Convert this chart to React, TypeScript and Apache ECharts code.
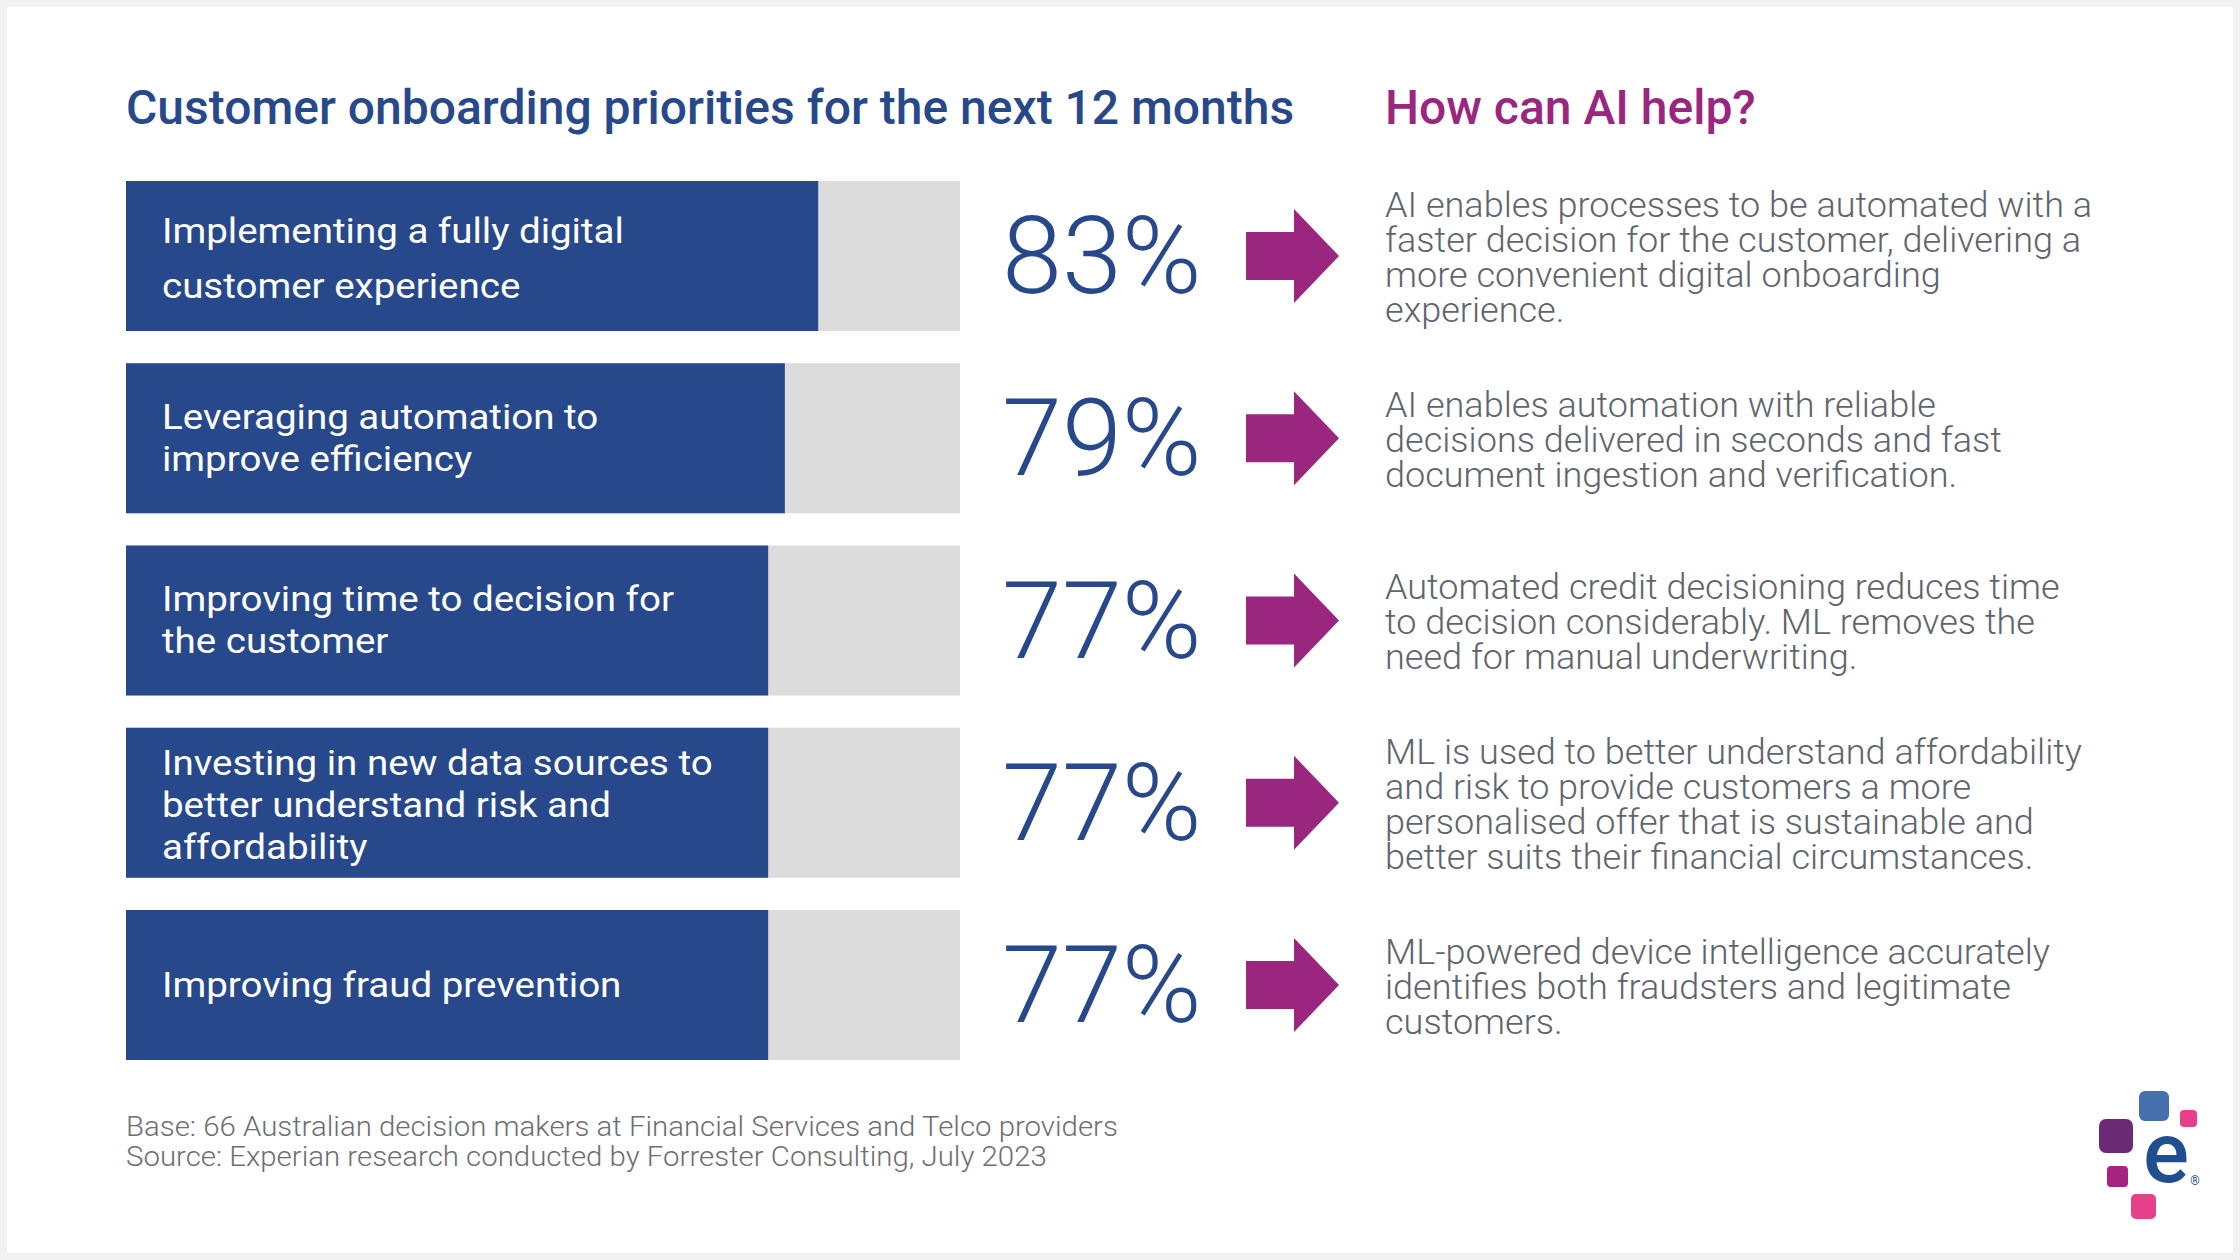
import React, { useEffect, useRef } from "react";
import * as echarts from "echarts";

const chartTitle = "Customer onboarding priorities for the next 12 months";
const sideTitle = "How can AI help?";
const categories = [
  "Implementing a fully digital\ncustomer experience",
  "Leveraging automation to\nimprove efficiency",
  "Improving time to decision for\nthe customer",
  "Investing in new data sources to\nbetter understand risk and\naffordability",
  "Improving fraud prevention",
];
const values = [83, 79, 77, 77, 77];
const aiHelp = [
  "AI enables processes to be automated with a\nfaster decision for the customer, delivering a\nmore convenient digital onboarding\nexperience.",
  "AI enables automation with reliable\ndecisions delivered in seconds and fast\ndocument ingestion and verification.",
  "Automated credit decisioning reduces time\nto decision considerably. ML removes the\nneed for manual underwriting.",
  "ML is used to better understand affordability\nand risk to provide customers a more\npersonalised offer that is sustainable and\nbetter suits their financial circumstances.",
  "ML-powered device intelligence accurately\nidentifies both fraudsters and legitimate\ncustomers.",
];
const footnotes = [
  "Base: 66 Australian decision makers at Financial Services and Telco providers",
  "Source: Experian research conducted by Forrester Consulting, July 2023",
];

const BLUE = "#27498c";
const PURPLE = "#9b2680";
const GREY_TEXT = "#60646b";
const FONT = "Roboto, 'Noto Sans', sans-serif";

export default function App() {
  const ref = useRef<HTMLDivElement>(null);

  useEffect(() => {
    if (!ref.current) return;
    const chart = echarts.init(ref.current, undefined, { renderer: "svg" });

    const option: any = {
      animation: false,
      backgroundColor: "#f2f2f2",
      grid: { left: 126, top: 164.9, width: 834, height: 911.25, containLabel: false },
      xAxis: { type: "value", min: 0, max: 100, show: false },
      yAxis: { type: "category", data: categories, inverse: true, show: false },
      graphic: [
        {
          type: "rect",
          z: -10,
          shape: { x: 7, y: 7, width: 2226, height: 1246 },
          style: { fill: "#ffffff" },
        },
        {
          type: "text",
          x: 126,
          y: 107.5,
          style: {
            text: chartTitle,
            fill: BLUE,
            fontSize: 48,
            fontWeight: 500,
            fontFamily: FONT,
            align: "left",
            verticalAlign: "middle",
          },
        },
        {
          type: "text",
          x: 1385,
          y: 107.5,
          style: {
            text: sideTitle,
            fill: PURPLE,
            fontSize: 48,
            fontWeight: 500,
            fontFamily: FONT,
            align: "left",
            verticalAlign: "middle",
          },
        },
        {
          type: "text",
          x: 126,
          y: 1141,
          scaleX: 1.05,
          style: {
            text: footnotes.join("\n"),
            fill: "#6d6e71",
            fontSize: 28,
            fontWeight: 300,
            fontFamily: FONT,
            lineHeight: 30,
            align: "left",
            verticalAlign: "middle",
          },
        },
        // logo
        { type: "rect", shape: { x: 2139, y: 1091, width: 30, height: 30, r: 6 }, style: { fill: "#4470ad" } },
        { type: "rect", shape: { x: 2180, y: 1110, width: 17, height: 17, r: 4 }, style: { fill: "#e6408b" } },
        { type: "rect", shape: { x: 2099, y: 1119, width: 34, height: 34, r: 7 }, style: { fill: "#6c2a76" } },
        { type: "rect", shape: { x: 2107, y: 1166, width: 21, height: 21, r: 4 }, style: { fill: "#a6237f" } },
        { type: "rect", shape: { x: 2131, y: 1194, width: 25, height: 25, r: 5 }, style: { fill: "#e6408b" } },
        {
          type: "text",
          x: 2166,
          y: 1152,
          style: {
            text: "e",
            fill: "#1f4e91",
            fontSize: 86,
            fontWeight: 500,
            fontFamily: FONT,
            align: "center",
            verticalAlign: "middle",
          },
        },
        {
          type: "text",
          x: 2195,
          y: 1181,
          style: {
            text: "®",
            fill: "#1f4e91",
            fontSize: 12,
            fontFamily: FONT,
            align: "center",
            verticalAlign: "middle",
          },
        },
      ],
      series: [
        {
          type: "bar",
          barWidth: 150,
          showBackground: true,
          backgroundStyle: { color: "#dcdcdc" },
          itemStyle: { color: BLUE },
          data: values,
          z: 2,
        },
        {
          type: "custom",
          clip: false,
          z: 3,
          encode: { x: 0, y: 1 },
          data: values.map((v, i) => [v, i]),
          renderItem: (params: any, api: any) => {
            const i = api.value(1);
            const v = api.value(0);
            const cy = api.coord([0, i])[1];
            const left = params.coordSys.x;
            return {
              type: "group",
              children: [
                {
                  type: "text",
                  x: left + 36,
                  y: cy + (i === 3 ? 2 : i === 0 ? 3 : 0),
                  scaleX: 1.1,
                  style: {
                    text: categories[i],
                    fill: "#ffffff",
                    fontSize: 35,
                    fontWeight: 400,
                    fontFamily: FONT,
                    lineHeight: i === 0 ? 55 : 42,
                    align: "left",
                    verticalAlign: "middle",
                  },
                },
                {
                  type: "text",
                  x: 1002,
                  y: cy,
                  style: {
                    text: v + "%",
                    fill: BLUE,
                    fontSize: 108,
                    fontWeight: 300,
                    fontFamily: FONT,
                    align: "left",
                    verticalAlign: "middle",
                  },
                },
                {
                  type: "polygon",
                  shape: {
                    points: [
                      [1246, cy - 24],
                      [1294, cy - 24],
                      [1294, cy - 47],
                      [1339, cy],
                      [1294, cy + 47],
                      [1294, cy + 24],
                      [1246, cy + 24],
                    ],
                  },
                  style: { fill: PURPLE },
                },
                {
                  type: "text",
                  x: 1385,
                  y: cy + 2,
                  scaleX: 1.03,
                  style: {
                    text: aiHelp[i],
                    fill: GREY_TEXT,
                    fontSize: 35,
                    fontWeight: 300,
                    fontFamily: FONT,
                    lineHeight: 35,
                    align: "left",
                    verticalAlign: "middle",
                  },
                },
              ],
            };
          },
        },
      ],
    };

    chart.setOption(option);
    return () => chart.dispose();
  }, []);

  return (
    <div
      ref={ref}
      style={{ position: "fixed", left: 0, top: 0, width: 2240, height: 1260 }}
    />
  );
}
